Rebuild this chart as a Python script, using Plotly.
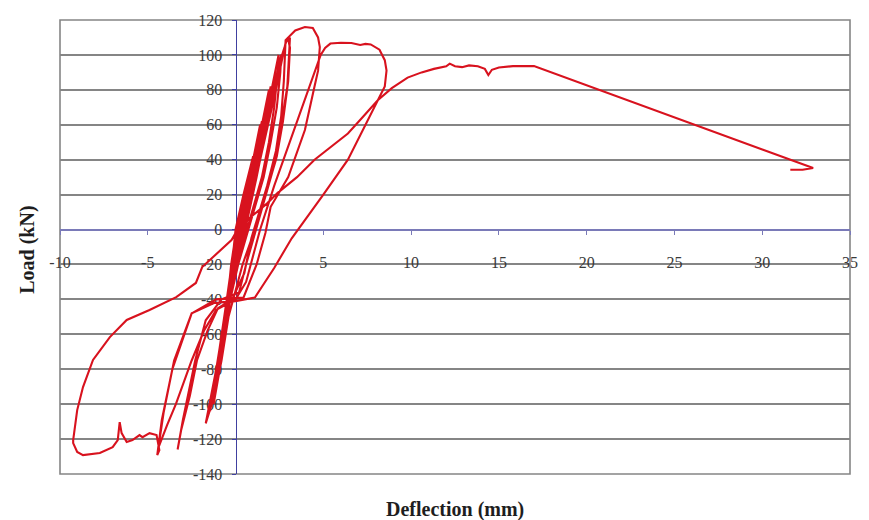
import plotly.graph_objects as go

# ---- data: (deflection mm, load kN) in test order ----
elastic_cycles = [
    (0, 0), (0.3, 10), (0.5, 20), (0.35, 10), (0.05, 0), (-0.1, -10), (-0.2, -20), (-0.1, -10), (0, 0),
    (0.45, 20), (0.95, 40), (0.85, 30), (0.55, 15), (0.2, 0), (-0.05, -20), (-0.3, -40), (-0.2, -30), (-0.05, -15), (0.05, 0),
    (0.5, 20), (1.0, 42), (0.9, 30), (0.6, 15), (0.25, 0), (-0.05, -20), (-0.35, -42), (-0.25, -30), (-0.05, -15), (0.05, 0),
    (0.5, 20), (1.0, 40), (1.4, 60), (1.3, 48), (1.0, 30), (0.35, 0), (0, -20), (-0.3, -40), (-0.6, -60), (-0.45, -45), (-0.2, -20), (0.05, 0),
    (0.55, 20), (1.05, 40), (1.5, 62), (1.4, 48), (1.05, 30), (0.4, 0), (0, -20), (-0.35, -40), (-0.7, -62), (-0.5, -45), (-0.25, -20), (0.05, 0),
    (0.6, 20), (1.1, 40), (1.5, 60), (1.9, 80), (1.8, 68), (1.5, 50), (1.1, 30), (0.5, 0), (0.05, -20), (-0.3, -40), (-0.6, -60), (-0.9, -80), (-0.7, -65), (-0.45, -45), (-0.2, -20), (0.05, 0),
    (0.65, 20), (1.15, 40), (1.6, 60), (2.0, 82), (1.9, 70), (1.6, 50), (1.2, 30), (0.55, 0), (0.05, -20), (-0.35, -40), (-0.65, -60), (-1.0, -82), (-0.8, -65), (-0.5, -45), (-0.25, -20), (0.05, 0),
    (0.7, 20), (1.2, 40), (1.65, 60), (2.05, 80), (2.45, 100), (2.4, 90), (2.2, 70), (1.9, 50), (1.5, 30), (0.65, 0), (0.1, -20), (-0.3, -40), (-0.6, -60), (-0.9, -80), (-1.25, -100), (-1.05, -85), (-0.75, -65), (-0.45, -40), (-0.15, -15), (0.1, 0),
    (0.75, 20), (1.3, 40), (1.75, 60), (2.15, 80), (2.6, 100), (2.55, 90), (2.35, 70), (2.0, 50), (1.6, 30), (0.75, 0), (0.15, -20), (-0.3, -40), (-0.65, -60), (-1.0, -80), (-1.45, -104), (-1.2, -88), (-0.85, -65), (-0.5, -40), (-0.15, -15), (0.15, 0),
]

cycles_110 = [
    (0.8, 20), (1.35, 40), (1.8, 60), (2.25, 80), (2.65, 100), (2.9, 108), (3.1, 110), (3.05, 100), (2.95, 82), (2.6, 60), (2.3, 40), (1.5, 13), (1.1, 0),
    (0.4, -20), (0, -35), (-0.4, -50), (-0.8, -75), (-1.2, -95), (-1.7, -111), (-1.5, -100), (-1.1, -80), (-0.7, -55), (-0.3, -30), (0.2, 0),
    (0.85, 20), (1.4, 40), (1.85, 60), (2.3, 80), (2.7, 100), (2.85, 107), (3.0, 109), (3.1, 104), (3.0, 85), (2.7, 62), (2.35, 42), (1.6, 15), (1.2, 0),
    (0.6, -20), (0.2, -36), (-0.8, -40), (-1.7, -52), (-2.3, -75), (-3.0, -109), (-3.3, -126), (-3.1, -115), (-2.6, -95), (-2.2, -75), (-1.6, -58),
    (-1.0, -45), (-0.2, -40), (0.5, -25), (0.9, -5), (1.2, 5),
]

cycle_116 = [
    (1.8, 25), (2.3, 45), (2.6, 65), (2.75, 85), (2.8, 100), (2.85, 108.5), (3.4, 114), (3.95, 116), (4.4, 115.4), (4.7, 110), (4.8, 104.5),
    (4.7, 91), (4.5, 82), (3.95, 57), (3.0, 30), (2.0, 13), (1.7, -2), (1.2, -20), (0.45, -39), (-1.1, -40), (-2.5, -48), (-3.6, -80),
    (-4.2, -109), (-4.46, -129.2), (-4.4, -125), (-3.9, -112), (-3.4, -100), (-2.5, -75), (-1.8, -58), (-1.1, -46), (0, -40), (0.6, -30),
    (1.0, -15), (1.4, 0),
]

cycle_107 = [
    (2.2, 25), (3.0, 48), (3.8, 70), (4.4, 88), (4.85, 100), (5.1, 104), (5.4, 106.5), (6.0, 107), (6.6, 106.8), (7.1, 105.7), (7.4, 106.3),
    (7.7, 106), (8.2, 103), (8.5, 97), (8.6, 91), (8.5, 82), (8.2, 76), (7.4, 60), (6.4, 40), (5.0, 20), (3.9, 5), (3.2, -5), (2.2, -22),
    (1.1, -39), (0.0, -41), (-1.2, -42), (-2.5, -48), (-3.5, -75), (-4.1, -105), (-4.3, -118), (-4.46, -129.2), (-4.34, -126.3),
    (-4.5, -117.7), (-4.9, -116.6), (-5.3, -118.9), (-5.47, -117.7), (-5.87, -120.6), (-6.2, -121.7), (-6.49, -116.6), (-6.6, -110.3),
    (-6.71, -120.6), (-7.0, -124.6), (-7.73, -128), (-8.69, -129.2), (-9.02, -127.4), (-9.25, -122.3), (-9.25, -120.6), (-9.02, -103.4),
    (-8.69, -90.2), (-8.12, -74.7), (-7.16, -61.6), (-6.2, -51.8), (-4.9, -46.1), (-3.38, -38.7), (-2.26, -30.6), (-1.9, -21.5),
    (-0.23, -6), (0.2, 1.5),
]

final_push = [
    (1.1, 9), (1.8, 15), (2.4, 21), (3.5, 30), (4.5, 40), (5.5, 48), (6.4, 55), (7.3, 65), (8.1, 74), (8.9, 81), (9.8, 87), (10.6, 90),
    (11.3, 92), (12.0, 93.5), (12.2, 95), (12.5, 93.5), (12.9, 93), (13.3, 94), (13.8, 93.5), (14.2, 92), (14.4, 88.5), (14.6, 91.5),
    (15.0, 92.8), (15.8, 93.6), (16.5, 93.8), (17.0, 93.6), (32.9, 35.2), (32.3, 34.2), (31.6, 34.2),
]

x_tick_vals = [-10, -5, 0, 5, 10, 15, 20, 25, 30, 35]
x_tick_text = ["-10", "-5", "", "5", "10", "15", "20", "25", "30", "35"]
y_tick_vals = [120, 100, 80, 60, 40, 20, 0, -20, -40, -60, -80, -100, -120, -140]
y_tick_text = ["120", "100", "80", "60", "40", "20", "0", "-20", "-40", "-60", "-80", "-100", "-120", "-140"]

x_range = [-10, 35]
y_range = [-140, 120]

# ---- build the single load-deflection trace ----
points = elastic_cycles + cycles_110 + cycle_116 + cycle_107 + final_push
xs = [p[0] for p in points]
ys = [p[1] for p in points]

fig = go.Figure()
fig.add_trace(go.Scatter(
    x=xs, y=ys, mode="lines",
    line=dict(color="#d8121e", width=2.1),
    showlegend=False, hoverinfo="skip",
))

serif = "Liberation Serif, Times New Roman, serif"

fig.update_layout(
    width=869, height=520,
    margin=dict(l=60, r=11, t=20, b=46),
    paper_bgcolor="white", plot_bgcolor="white",
    showlegend=False,
    xaxis=dict(
        range=x_range, tickmode="array", tickvals=x_tick_vals, ticktext=x_tick_text,
        showgrid=False, zeroline=False,
        showline=True, linecolor="#7a7ab8", linewidth=2,
        anchor="free", position=(0 - y_range[0]) / (y_range[1] - y_range[0]),
        ticks="outside", ticklen=4, tickcolor="#7a7ab8", tickwidth=1,
        ticklabelstandoff=14,
        tickfont=dict(family=serif, size=16, color="#3a3a3a"),
        layer="below traces",
    ),
    yaxis=dict(
        range=y_range, tickmode="array", tickvals=y_tick_vals, ticktext=y_tick_text,
        showgrid=True, gridcolor="#858585", gridwidth=1.6,
        zeroline=False,
        showline=True, linecolor="#4040a0", linewidth=1,
        anchor="free", position=(0 - x_range[0]) / (x_range[1] - x_range[0]),
        ticks="outside", ticklen=4, tickcolor="#4040a0", tickwidth=1,
        ticklabelstandoff=6,
        tickfont=dict(family=serif, size=16, color="#3a3a3a"),
        layer="below traces",
    ),
    shapes=[
        dict(type="rect", xref="paper", yref="paper", x0=0, x1=1, y0=0, y1=1,
             line=dict(color="#858585", width=1.6), layer="below"),
    ],
    annotations=[
        dict(text="<b>Load (kN)</b>", xref="paper", yref="paper", x=-0.041, y=0.493,
             textangle=-90, showarrow=False, xanchor="center", yanchor="middle",
             font=dict(family=serif, size=20, color="#1e1e1e")),
        dict(text="<b>Deflection (mm)</b>", xref="paper", yref="paper", x=0.5, y=-0.079,
             showarrow=False, xanchor="center", yanchor="middle",
             font=dict(family=serif, size=20, color="#1e1e1e")),
    ],
)

fig.write_html("out.html", config={"displayModeBar": False},
               post_script="document.body.style.margin='0px';")
